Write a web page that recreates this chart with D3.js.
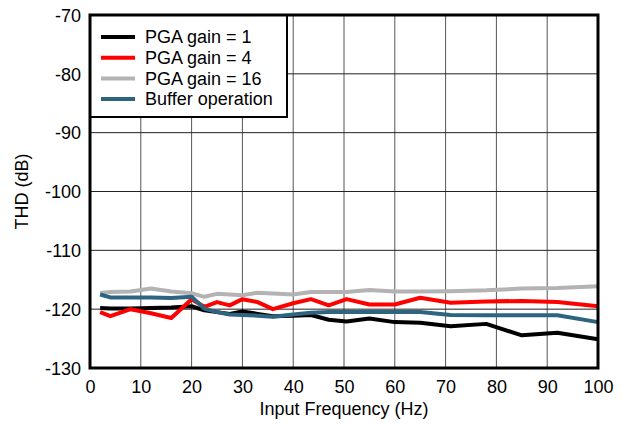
<!DOCTYPE html>
<html>
<head>
<script src="https://cdn.jsdelivr.net/npm/d3@7"></script>
<style>
  body { margin: 0; background: #fff; }
  text { font-family: "Liberation Sans", Arial, sans-serif; }
</style>
</head>
<body>
<div id="chart"></div>
<script>
// frequencies (Hz) where THD was measured
var freq = [2, 4, 8, 12, 16, 20, 22.5, 25, 27.5, 30, 33, 36, 40, 43.5, 47, 50.5, 55, 60, 65, 71, 78, 85, 92, 100];

var gain1  = [-119.8, -119.9, -119.9, -119.8, -119.7, -119.5, -120.2, -120.5, -120.8, -120.4, -120.8, -121.2, -121.1, -121.0, -121.8, -122.1, -121.6, -122.2, -122.3, -122.9, -122.5, -124.45, -124.0, -125.1];
var gain4  = [-120.5, -121.2, -120.0, -120.7, -121.5, -118.3, -119.6, -118.8, -119.35, -118.3, -118.8, -120.0, -119.0, -118.3, -119.35, -118.3, -119.2, -119.2, -118.05, -118.9, -118.7, -118.6, -118.8, -119.5];
var gain16 = [-117.25, -117.1, -117.0, -116.5, -117.0, -117.3, -117.9, -117.4, -117.5, -117.65, -117.2, -117.35, -117.5, -117.1, -117.1, -117.1, -116.75, -117.0, -117.0, -116.95, -116.8, -116.5, -116.4, -116.1];
var buffer = [-117.5, -118.0, -118.0, -118.0, -118.1, -117.9, -119.9, -120.5, -120.9, -121.0, -121.1, -121.3, -120.9, -120.6, -120.5, -120.5, -120.5, -120.5, -120.5, -121.0, -121.05, -121.05, -121.05, -122.2];

var seriesNames = ['PGA gain = 1', 'PGA gain = 4', 'PGA gain = 16', 'Buffer operation'];
var seriesColors = ['#000000', '#ff0000', '#b3b3b3', '#2f6480'];
var seriesData = [gain1, gain4, gain16, buffer];

var xTicks = [0, 10, 20, 30, 40, 50, 60, 70, 80, 90, 100];
var yTicks = [-130, -120, -110, -100, -90, -80, -70];

var width = 626, height = 424;
var margin = { left: 90, right: 28, top: 15, bottom: 56 };
var w = width - margin.left - margin.right;
var h = height - margin.top - margin.bottom;
var fontSize = 18;

var svg = d3.select('#chart').append('svg')
    .attr('width', width)
    .attr('height', height);

var g = svg.append('g')
    .attr('transform', 'translate(' + margin.left + ',' + margin.top + ')');

var x = d3.scaleLinear().domain([0, 100]).range([0, w]);
var y = d3.scaleLinear().domain([-130, -70]).range([h, 0]);

// grid
g.selectAll('.vgrid').data(xTicks.slice(1, -1)).enter().append('line')
    .attr('x1', function(d) { return x(d); })
    .attr('x2', function(d) { return x(d); })
    .attr('y1', 0).attr('y2', h)
    .attr('stroke', '#555').attr('stroke-width', 1);

g.selectAll('.hgrid').data(yTicks.slice(1, -1)).enter().append('line')
    .attr('x1', 0).attr('x2', w)
    .attr('y1', function(d) { return y(d); })
    .attr('y2', function(d) { return y(d); })
    .attr('stroke', '#222').attr('stroke-width', 1);

// series
var line = d3.line()
    .x(function(d, i) { return x(freq[i]); })
    .y(function(d) { return y(d); });

seriesData.forEach(function(s, k) {
    g.append('path')
        .datum(s)
        .attr('d', line)
        .attr('fill', 'none')
        .attr('stroke', seriesColors[k])
        .attr('stroke-width', 4)
        .attr('stroke-linejoin', 'round');
});

// axes
var xAxis = d3.axisBottom(x).tickValues(xTicks).tickSize(0).tickPadding(12);
var yAxis = d3.axisLeft(y).tickValues(yTicks).tickSize(0).tickPadding(9)
    .tickFormat(function(d) { return String(d); });

var gx = g.append('g').attr('transform', 'translate(0,' + h + ')').call(xAxis);
var gy = g.append('g').call(yAxis);
[gx, gy].forEach(function(a) {
    a.select('.domain').remove();
    a.selectAll('text').attr('font-size', fontSize).attr('fill', '#000')
        .style('font-family', '"Liberation Sans", Arial, sans-serif');
});
gy.selectAll('text').attr('dy', '0.35em');

// legend
var lg = g.append('g');
lg.append('rect')
    .attr('x', 0).attr('y', 0).attr('width', 197).attr('height', 102)
    .attr('fill', '#fff').attr('stroke', '#000').attr('stroke-width', 2);

seriesNames.forEach(function(name, k) {
    var ly = 22 + k * 20.7;
    lg.append('line')
        .attr('x1', 11).attr('x2', 45)
        .attr('y1', ly).attr('y2', ly)
        .attr('stroke', seriesColors[k]).attr('stroke-width', 4);
    lg.append('text')
        .attr('x', 55).attr('y', ly)
        .attr('dy', '0.35em')
        .attr('font-size', fontSize)
        .text(name);
});

// frame
g.append('rect')
    .attr('x', 0).attr('y', 0).attr('width', w).attr('height', h)
    .attr('fill', 'none').attr('stroke', '#000').attr('stroke-width', 3);

// axis titles
svg.append('text')
    .attr('x', margin.left + w / 2).attr('y', 415)
    .attr('text-anchor', 'middle').attr('font-size', fontSize)
    .text('Input Frequency (Hz)');

svg.append('text')
    .attr('transform', 'translate(28,' + (margin.top + h / 2) + ') rotate(-90)')
    .attr('text-anchor', 'middle').attr('font-size', fontSize)
    .text('THD (dB)');
</script>
</body>
</html>
